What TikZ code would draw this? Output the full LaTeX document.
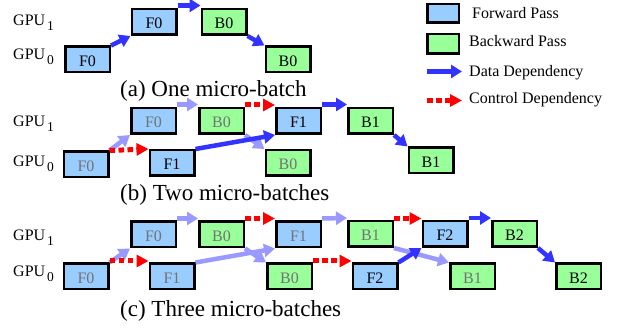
\documentclass[tikz,border=0pt]{standalone}
\usepackage{fontspec}
\setmainfont{Liberation Serif}
\usetikzlibrary{arrows.meta}

\definecolor{fwdblue}{HTML}{99CCFF}
\definecolor{bwdgreen}{HTML}{99FF99}
\definecolor{datablue}{HTML}{3333FF}
\definecolor{pastblue}{HTML}{9999FF}
\definecolor{ctrlred}{HTML}{FF0000}
\definecolor{donegray}{HTML}{737373}

\newcommand{\gpulabel}[1]{GPU\kern2pt\raisebox{-5pt}{\fontsize{13.5}{13.5}\selectfont #1}}

\tikzset{
  box/.style={draw=black, line width=2.5pt, minimum width=44.5pt, minimum height=25.5pt,
    inner sep=0pt, font=\fontsize{16}{16}\selectfont, text height=14pt, text depth=0pt},
  fwd/.style={box, fill=fwdblue},
  bwd/.style={box, fill=bwdgreen},
  done/.style={text=donegray},
  data/.style={draw=datablue, line width=4.5pt, -{Triangle[length=11pt,width=13pt]}},
  past/.style={data, draw=pastblue},
  ctrl/.style={draw=ctrlred, line width=5pt, dash pattern=on 5.5pt off 3.5pt,
    -{Triangle[length=12pt,width=12pt]}},
  rowlabel/.style={anchor=base west, inner sep=0pt, font=\fontsize{16}{16}\selectfont},
  legtext/.style={anchor=base west, inner sep=0pt, font=\fontsize{16}{16}\selectfont},
  caption/.style={anchor=base west, inner sep=0pt, font=\fontsize{23}{23}\selectfont},
}

\begin{document}
\begin{tikzpicture}[x=1pt, y=-1pt]
\useasboundingbox (0,0) rectangle (625,328);

% ---------- legend ----------
\node[fwd, minimum width=31.5pt, minimum height=18.5pt] (legF) at (443,13.5) {};
\node[bwd, minimum width=31.5pt, minimum height=19.5pt] (legB) at (443,44) {};
\node[legtext] (legFt) at (472,19) {Forward Pass};
\node[legtext] (legBt) at (469,47) {Backward Pass};
\node[legtext] (legDt) at (469,77) {Data Dependency};
\node[legtext] (legCt) at (469,104) {Control Dependency};
\coordinate (legD0) at (427,71.5);
\coordinate (legD1) at (462,71.5);
\coordinate (legC0) at (427,100.5);
\coordinate (legC1) at (462,100.5);
\draw[data] (legD0) -- (legD1);
\draw[ctrl] (legC0) -- (legC1);

% ---------- (a) one micro-batch ----------
\node[rowlabel] (aG1) at (13,26) {\gpulabel{1}};
\node[rowlabel] (aG0) at (13,60) {\gpulabel{0}};
\node[fwd] (aF0a) at (87.5,59.5) {F0};
\node[fwd] (aF0b) at (154,22) {F0};
\node[bwd] (aB0b) at (224,22) {B0};
\node[bwd] (aB0a) at (288,59.5) {B0};
\draw[data] (aF0a.north east) -- (aF0b.south west);
\draw[data] ([yshift=2.5pt]aF0b.north east) -- ([yshift=2.5pt]aB0b.north west);
\draw[data] (aB0b.south east) -- (aB0a.north west);
\node[caption] (capA) at (120,97) {(a) One micro-batch};

% ---------- (b) two micro-batches ----------
\node[rowlabel] (bG1) at (13,127) {\gpulabel{1}};
\node[rowlabel] (bG0) at (13,167) {\gpulabel{0}};
\node[fwd, done] (bF0a) at (86,164.5) {F0};
\node[fwd, done] (bF0b) at (153.5,121) {F0};
\node[bwd, done] (bB0b) at (221.5,121) {B0};
\node[fwd] (bF1a) at (172,163) {F1};
\node[fwd] (bF1b) at (298.5,121) {F1};
\node[bwd, done] (bB0a) at (288,163) {B0};
\node[bwd] (bB1b) at (370.5,121) {B1};
\node[bwd] (bB1a) at (431,160.5) {B1};
\draw[past] (bF0a.north east) -- (bF0b.south west);
\draw[past] ([yshift=2.5pt]bF0b.north east) -- ([yshift=2.5pt]bB0b.north west);
\draw[past] (bB0b.south east) -- (bB0a.north west);
\draw[ctrl] (bF0a.north east) -- (bF1a.north west);
\draw[ctrl] ([yshift=2pt]bB0b.north east) -- ([yshift=2pt]bF1b.north west);
\draw[data] (bF1a.north east) -- (bF1b.south west);
\draw[data] ([yshift=2.5pt]bF1b.north east) -- ([yshift=2.5pt]bB1b.north west);
\draw[data] (bB1b.south east) -- (bB1a.north west);
\node[caption] (capB) at (120,201) {(b) Two micro-batches};

% ---------- (c) three micro-batches ----------
\node[rowlabel] (cG1) at (13,241) {\gpulabel{1}};
\node[rowlabel] (cG0) at (13,277) {\gpulabel{0}};
\node[fwd, done] (cF0b) at (153.5,234.5) {F0};
\node[bwd, done] (cB0b) at (221.5,234.5) {B0};
\node[fwd, done] (cF1b) at (298.5,234.5) {F1};
\node[bwd, done] (cB1b) at (370.5,234) {B1};
\node[fwd] (cF2b) at (445,234) {F2};
\node[bwd] (cB2b) at (514.5,234) {B2};
\node[fwd, done] (cF0a) at (86,276.5) {F0};
\node[fwd, done] (cF1a) at (172,276.5) {F1};
\node[bwd, done] (cB0a) at (289.5,276.5) {B0};
\node[fwd] (cF2a) at (375,276.5) {F2};
\node[bwd, done] (cB1a) at (472.5,276.5) {B1};
\node[bwd] (cB2a) at (578.5,276.5) {B2};
\draw[past] (cF0a.north east) -- (cF0b.south west);
\draw[past] ([yshift=2pt]cF0b.north east) -- ([yshift=2pt]cB0b.north west);
\draw[past] (cF1a.north east) -- (cF1b.south west);
\draw[past] (cB0b.south east) -- (cB0a.north west);
\draw[past] ([yshift=2pt]cF1b.north east) -- ([yshift=2pt]cB1b.north west);
\draw[past] (cB1b.south east) -- (cB1a.north west);
\draw[ctrl] ([yshift=1.5pt]cF0a.north east) -- ([yshift=1.5pt]cF1a.north west);
\draw[ctrl] ([yshift=2pt]cB0b.north east) -- ([yshift=2pt]cF1b.north west);
\draw[ctrl] ([yshift=1.5pt]cB0a.north east) -- ([yshift=1.5pt]cF2a.north west);
\draw[ctrl] ([yshift=1.5pt]cB1b.north east) -- ([yshift=1.5pt]cF2b.north west);
\draw[data] (cF2a.north east) -- (cF2b.south west);
\draw[data] ([yshift=2pt]cF2b.north east) -- ([yshift=2pt]cB2b.north west);
\draw[data] (cB2b.south east) -- (cB2a.north west);
\node[caption] (capC) at (120,317) {(c) Three micro-batches};
\end{tikzpicture}
\end{document}
